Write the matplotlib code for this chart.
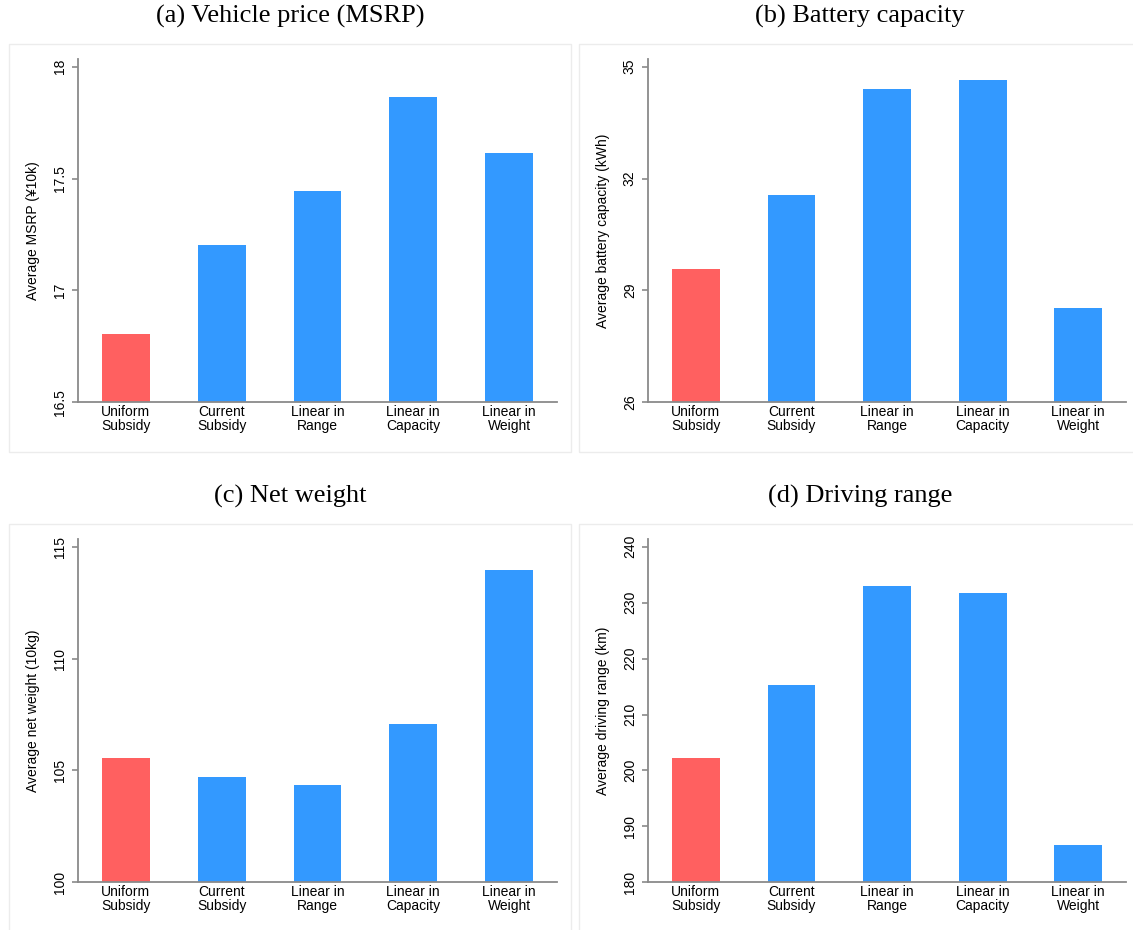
import matplotlib
matplotlib.use("Agg")
import matplotlib.pyplot as plt
from matplotlib.patches import Rectangle

# 补贴方案
schemes = ["Uniform\nSubsidy", "Current\nSubsidy", "Linear in\nRange", "Linear in\nCapacity", "Linear in\nWeight"]

# 各方案下的平均值
msrp = [16.807, 17.203, 17.446, 17.865, 17.614]
battery = [29.58, 31.55, 34.39, 34.64, 28.53]
weight = [105.54, 104.69, 104.33, 107.09, 113.94]
drange = [202.2, 215.2, 233.0, 231.7, 186.7]

msrp_ticks = [16.5, 17, 17.5, 18]
msrp_ticklabels = ["16.5", "17", "17.5", "18"]
battery_ticks = [26, 29, 32, 35]
battery_ticklabels = ["26", "29", "32", "35"]
weight_ticks = [100, 105, 110, 115]
weight_ticklabels = ["100", "105", "110", "115"]
drange_ticks = [180, 190, 200, 210, 220, 230, 240]
drange_ticklabels = ["180", "190", "200", "210", "220", "230", "240"]

titles = ["(a) Vehicle price (MSRP)", "(b) Battery capacity", "(c) Net weight", "(d) Driving range"]
ylabels = ["Average MSRP (¥10k)", "Average battery capacity (kWh)",
           "Average net weight (10kg)", "Average driving range (km)"]

RED = "#ff6060"
BLUE = "#3399ff"
AXIS = "#8a8a8a"

plt.rcParams['font.family'] = ['Liberation Sans', 'DejaVu Sans']

W, H = 1133, 930
fig = plt.figure(figsize=(W / 100, H / 100), dpi=100)


def px(l, r, t, b):
    # pixel box -> figure fraction
    return [l / W, 1 - b / H, (r - l) / W, (b - t) / H]


# (l, r, t, b) of each plot area and of the light frame around it
plot_boxes = [(78, 557, 59, 402.3), (648, 1126, 59, 402.3),
              (78, 557, 539, 882.3), (648, 1126, 539, 882.3)]
frame_boxes = [(9, 571, 44, 452), (579, 1141, 44, 452),
               (9, 571, 524, 934), (579, 1141, 524, 934)]
title_pos = [(290, 16), (860, 16), (290, 496), (860, 496)]

data = [(msrp, msrp_ticks, msrp_ticklabels),
        (battery, battery_ticks, battery_ticklabels),
        (weight, weight_ticks, weight_ticklabels),
        (drange, drange_ticks, drange_ticklabels)]

for i in range(4):
    vals, ticks, ticklabels = data[i]

    l, r, t, b = frame_boxes[i]
    fig.patches.append(Rectangle((l / W, 1 - b / H), (r - l) / W, (b - t) / H,
                                 transform=fig.transFigure, fill=False,
                                 edgecolor="#ececec", linewidth=1))
    tx, ty = title_pos[i]
    fig.text(tx / W, 1 - ty / H, titles[i], ha="center", va="center",
             fontsize=19, family=["Liberation Serif", "DejaVu Serif"])

    ax = fig.add_axes(px(*plot_boxes[i]))
    colors = [RED] + [BLUE] * (len(vals) - 1)
    ax.bar(range(len(vals)), vals, width=0.5, color=colors, zorder=2)

    lo, hi = ticks[0], ticks[-1]
    ax.set_ylim(lo, hi + 0.023 * (hi - lo))
    ax.set_xlim(-0.5, len(vals) - 0.5)
    ax.set_yticks(ticks)
    ax.set_yticklabels(ticklabels, rotation=90, va="center")
    ax.set_xticks(range(len(vals)))
    ax.set_xticklabels(schemes, linespacing=1.0)

    ax.spines["top"].set_visible(False)
    ax.spines["right"].set_visible(False)
    for s in ["left", "bottom"]:
        ax.spines[s].set_color(AXIS)
        ax.spines[s].set_linewidth(1.3)
    ax.tick_params(axis="y", length=4, width=1.2, color=AXIS, pad=4, labelsize=10)
    ax.tick_params(axis="x", length=0, pad=2, labelsize=10)

    ax.set_ylabel(ylabels[i], fontsize=10)
    ax.yaxis.set_label_coords(-38 / 479, 0.5)

fig.savefig("out.png", dpi=100)
